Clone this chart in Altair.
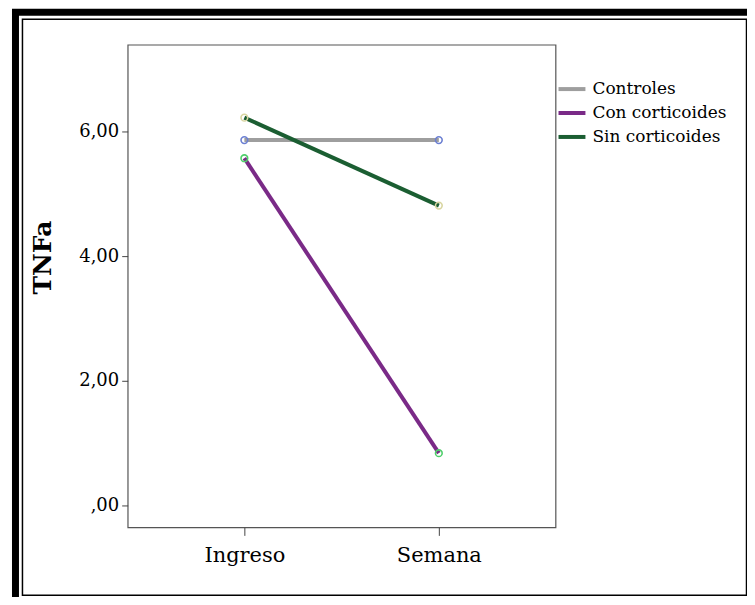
import altair as alt
import pandas as pd

# data
momentos = ["Ingreso", "Semana"]
grupos = ["Controles", "Con corticoides", "Sin corticoides"]
controles = [5.86, 5.86]
con_corticoides = [5.57, 0.84]
sin_corticoides = [6.22, 4.81]

line_colors = ["#9e9e9e", "#7a2a87", "#1b5e32"]
marker_colors = ["#6b7fd2", "#4fcf6b", "#d8d5a0"]

rows = []
for g, vals in zip(grupos, [controles, con_corticoides, sin_corticoides]):
    for m, v in zip(momentos, vals):
        rows.append({"Momento": m, "Grupo": g, "TNFa": v, "orden": grupos.index(g)})
df = pd.DataFrame(rows)

FONT = "DejaVu Serif"
PW, PH = 429, 484

x_enc = alt.X("Momento:N", sort=momentos,
              scale=alt.Scale(type="point", padding=0.6),
              axis=alt.Axis(title=None, labelAngle=0, labelFont=FONT, labelFontSize=21,
                            labelColor="black", tickColor="#444", tickSize=8, domain=False,
                            labelPadding=9, grid=False))
y_enc = alt.Y("TNFa:Q",
              scale=alt.Scale(domain=[-0.35, 7.39], nice=False, zero=False),
              axis=alt.Axis(title="TNFa", values=[0, 2, 4, 6], grid=False, domain=False,
                            labelExpr="datum.value == 0 ? ',00' : replace(format(datum.value, '.2f'), '.', ',')",
                            labelFont=FONT, labelFontSize=18, labelColor="black",
                            tickColor="#444", tickSize=6, labelPadding=3,
                            titleFont=FONT, titleFontSize=25, titleFontWeight="bold",
                            titleColor="black", titleX=-72, titleY=213,
                            titleAlign="center", titleBaseline="bottom", titleAngle=270))

lines = alt.Chart(df).mark_line(strokeWidth=4).encode(
    x=x_enc, y=y_enc,
    color=alt.Color("Grupo:N", sort=grupos,
                    scale=alt.Scale(domain=grupos, range=line_colors),
                    legend=alt.Legend(title=None, orient="none", legendX=430, legendY=29,
                                      symbolType="stroke", symbolSize=729, symbolStrokeWidth=4,
                                      labelFont=FONT, labelFontSize=17, labelColor="black",
                                      labelOffset=5, rowPadding=-4, padding=0)),
    order="orden:Q",
)

points = alt.Chart(df).mark_point(filled=False, size=45, strokeWidth=1.6, opacity=1).encode(
    x=x_enc, y=y_enc,
    stroke=alt.Stroke("Grupo:N", sort=grupos,
                      scale=alt.Scale(domain=grupos, range=marker_colors), legend=None),
)

# outer double frame (pixel positions relative to plot area)
frame_thick = alt.Chart(pd.DataFrame({"a": [0]})).mark_rect(
    fill=None, stroke="black", strokeWidth=7).encode(
    x=alt.value(-112.5), x2=alt.value(627), y=alt.value(-32.5), y2=alt.value(560))
frame_thin = alt.Chart(pd.DataFrame({"a": [0]})).mark_rect(
    fill=None, stroke="black", strokeWidth=1.5).encode(
    x=alt.value(-105.5), x2=alt.value(620.5), y=alt.value(-25.5), y2=alt.value(552))

chart = alt.layer(frame_thick, frame_thin, lines, points).resolve_scale(
    color="independent", stroke="independent"
).properties(
    width=PW, height=PH,
    autosize=alt.AutoSizeParams(type="none"),
    padding={"left": 120, "top": 36, "right": 192, "bottom": 69},
    background="white",
).configure_view(stroke="#555", strokeWidth=1.2)

chart.save("out.html", embed_options={"renderer": "svg", "actions": False})
